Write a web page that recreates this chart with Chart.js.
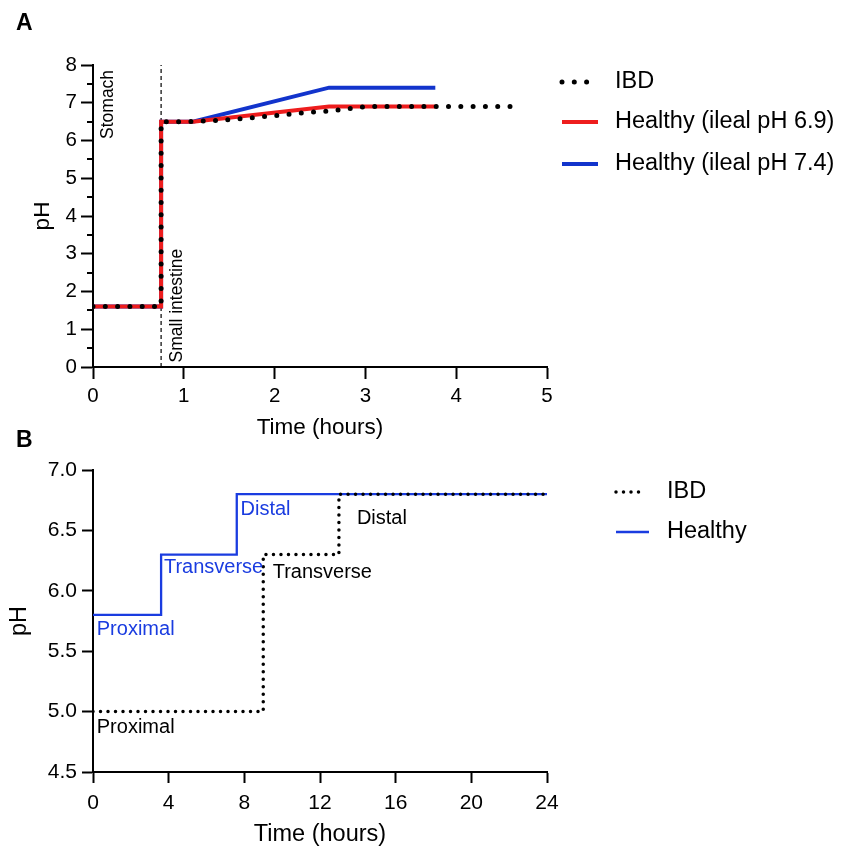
<!DOCTYPE html>
<html>
<head>
<meta charset="utf-8">
<title>Gastrointestinal pH profiles</title>
<script src="https://cdn.jsdelivr.net/npm/chart.js@4.4.1/dist/chart.umd.min.js"></script>
<style>
  html, body { margin: 0; padding: 0; background: #fff; }
  #wrap { position: relative; width: 842px; height: 850px; overflow: hidden; }
  canvas { position: absolute; left: 0; }
  #chartA { top: 0; }
  #chartB { top: 420px; }
</style>
</head>
<body>
<div id="wrap">
  <canvas id="chartA" width="842" height="445"></canvas>
  <canvas id="chartB" width="842" height="430"></canvas>
</div>
<script>
// ---- Panel A: stomach -> small intestine ----
const timeA_IBD = [0, 0.75, 0.75, 1.0, 1.3, 1.7, 2.1, 2.35, 2.65, 3.0, 4.65];
const phA_IBD   = [1.6, 1.6, 6.5, 6.5, 6.52, 6.59, 6.68, 6.74, 6.79, 6.9, 6.9];
const timeA_H69 = [0, 0.75, 0.75, 1.1, 2.6, 3.77];
const phA_H69   = [1.6, 1.6, 6.5, 6.5, 6.9, 6.9];
const timeA_H74 = [0, 0.75, 0.75, 1.1, 2.6, 3.77];
const phA_H74   = [1.6, 1.6, 6.5, 6.5, 7.4, 7.4];
const gastricEmptyA = 0.75;          // stomach / small intestine boundary (h)
const ticksAx = [0, 1, 2, 3, 4, 5];
const ticksAy = [0, 1, 2, 3, 4, 5, 6, 7, 8];
const minorAy = [0.5, 1.5, 2.5, 3.5, 4.5, 5.5, 6.5, 7.5];
const seriesA = ['IBD', 'Healthy (ileal pH 6.9)', 'Healthy (ileal pH 7.4)'];

// ---- Panel B: colon (step profiles) ----
const segmentsB = ['Proximal', 'Transverse', 'Distal'];
const timeB_IBD = [0, 9, 13, 24];
const phB_IBD   = [5.0, 6.3, 6.8, 6.8];
const timeB_H   = [0, 3.6, 7.6, 24];
const phB_H     = [5.8, 6.3, 6.8, 6.8];
const ticksBx = [0, 4, 8, 12, 16, 20, 24];
const ticksBy = [4.5, 5.0, 5.5, 6.0, 6.5, 7.0];
const seriesB = ['IBD', 'Healthy'];

const FONT = '"Liberation Sans", Arial, Helvetica, sans-serif';
const RED = '#ee1d1d';
const BLUE = '#1234cc';
const BLUE_B = '#1a3ce0';

Chart.defaults.font.family = FONT;
Chart.defaults.color = '#000';

const toXY = (xs, ys) => xs.map((x, i) => ({ x: x, y: ys[i] }));

// panel letter, minor ticks, text notes and the side legend
const decorPlugin = {
  id: 'decor',
  afterDraw(chart, args, opts) {
    const { ctx, chartArea, scales } = chart;
    ctx.save();
    ctx.fillStyle = '#000';
    ctx.font = 'bold 23px ' + FONT;
    ctx.textAlign = 'left';
    ctx.textBaseline = 'middle';
    ctx.fillText(opts.letter, opts.letterX, opts.letterY);

    ctx.strokeStyle = '#000';
    ctx.lineWidth = 2;
    (opts.minorY || []).forEach(v => {
      const y = Math.round(scales.y.getPixelForValue(v));
      ctx.beginPath();
      ctx.moveTo(chartArea.left, y);
      ctx.lineTo(chartArea.left - 6, y);
      ctx.stroke();
    });

    (opts.notes || []).forEach(n => {
      ctx.save();
      ctx.translate(scales.x.getPixelForValue(n.x), scales.y.getPixelForValue(n.y));
      if (n.rotate) ctx.rotate(-Math.PI / 2);
      ctx.font = n.size + 'px ' + FONT;
      ctx.fillStyle = n.color || '#000';
      ctx.textAlign = n.align || 'left';
      ctx.textBaseline = 'middle';
      ctx.fillText(n.text, 0, 0);
      ctx.restore();
    });

    const lg = opts.legend;
    const items = chart.data.datasets.filter(d => d.inLegend);
    items.forEach((ds, i) => {
      const y = chartArea.top + lg.rows[i];
      const x0 = chartArea.right + lg.markerX;
      ctx.save();
      ctx.strokeStyle = ds.borderColor;
      ctx.lineWidth = ds.borderWidth;
      ctx.lineCap = ds.borderCapStyle || 'butt';
      ctx.setLineDash(ds.borderDash || []);
      ctx.beginPath();
      ctx.moveTo(x0, y);
      ctx.lineTo(x0 + (ds.borderDash ? lg.dotLen : lg.markerLen), y);
      ctx.stroke();
      ctx.restore();
      ctx.font = lg.size + 'px ' + FONT;
      ctx.fillStyle = '#000';
      ctx.textAlign = 'left';
      ctx.textBaseline = 'middle';
      ctx.fillText(ds.label, chartArea.right + lg.textX, y);
    });
    ctx.restore();
  }
};

function axis(ticks, opts) {
  return {
    type: 'linear',
    min: ticks[0],
    max: ticks[ticks.length - 1],
    afterBuildTicks: s => { s.ticks = ticks.map(v => ({ value: v })); },
    border: { color: '#000', width: 2 },
    grid: { display: true, drawOnChartArea: false, drawTicks: true,
            tickLength: opts.tickLength, tickWidth: 2, tickColor: '#000', color: '#000' },
    ticks: { color: '#000', padding: opts.padding, font: { size: opts.tickSize },
             maxRotation: 0, autoSkip: false, callback: opts.format },
    title: { display: true, text: opts.title, color: '#000', font: { size: opts.titleSize }, padding: opts.titlePad },
    afterFit: opts.fit
  };
}

// ---------------- Panel A ----------------
new Chart(document.getElementById('chartA'), {
  type: 'line',
  data: {
    datasets: [
      { label: seriesA[0], inLegend: true, data: toXY(timeA_IBD, phA_IBD),
        borderColor: '#000', borderWidth: 5, borderDash: [0, 12.3], borderCapStyle: 'round' },
      { label: seriesA[1], inLegend: true, data: toXY(timeA_H69, phA_H69),
        borderColor: RED, borderWidth: 4 },
      { label: seriesA[2], inLegend: true, data: toXY(timeA_H74, phA_H74),
        borderColor: BLUE, borderWidth: 4 },
      { label: 'boundary', data: toXY([gastricEmptyA, gastricEmptyA], [ticksAy[0], ticksAy[ticksAy.length - 1]]),
        borderColor: '#000', borderWidth: 1.2, borderDash: [4, 3] }
    ]
  },
  options: {
    responsive: false,
    animation: false,
    elements: { point: { radius: 0 }, line: { tension: 0, fill: false } },
    layout: { padding: { left: 10, right: 295, top: 65, bottom: 0 } },
    plugins: {
      legend: { display: false },
      tooltip: { enabled: false },
      decor: {
        letter: 'A', letterX: 16, letterY: 24,
        minorY: minorAy,
        notes: [
          { text: 'Stomach', x: 0.165, y: 7.87, rotate: true, align: 'right', size: 17.5 },
          { text: 'Small intestine', x: 0.93, y: 0.12, rotate: true, align: 'left', size: 17.5 }
        ],
        legend: { rows: [17, 57, 99], markerX: 15, markerLen: 36, dotLen: 26, textX: 68, size: 23.5 }
      }
    },
    scales: {
      x: axis(ticksAx, { tickLength: 12, padding: 5, tickSize: 20.5, title: 'Time (hours)', titleSize: 22.5,
                         titlePad: { top: 0, bottom: 4 }, fit: s => { s.height = 78; } }),
      y: axis(ticksAy, { tickLength: 12, padding: 4, tickSize: 20.5, title: 'pH', titleSize: 22.5,
                         titlePad: { top: 19, bottom: 0 }, fit: s => { s.width = 83; } })
    }
  },
  plugins: [decorPlugin]
});

// ---------------- Panel B ----------------
const notesB = [
  { text: segmentsB[0], x: 0.2,  y: 5.68, color: BLUE_B, size: 20 },
  { text: segmentsB[1], x: 3.75, y: 6.19, color: BLUE_B, size: 20 },
  { text: segmentsB[2], x: 7.8,  y: 6.67, color: BLUE_B, size: 20 },
  { text: segmentsB[0], x: 0.2,  y: 4.87, size: 20 },
  { text: segmentsB[1], x: 9.5,  y: 6.15, size: 20 },
  { text: segmentsB[2], x: 13.95, y: 6.6, size: 20 }
];

new Chart(document.getElementById('chartB'), {
  type: 'line',
  data: {
    datasets: [
      { label: seriesB[0], inLegend: true, data: toXY(timeB_IBD, phB_IBD), stepped: 'before',
        borderColor: '#000', borderWidth: 3.5, borderDash: [0, 7.5], borderCapStyle: 'round' },
      { label: seriesB[1], inLegend: true, data: toXY(timeB_H, phB_H), stepped: 'before',
        borderColor: BLUE_B, borderWidth: 2.3 }
    ]
  },
  options: {
    responsive: false,
    animation: false,
    elements: { point: { radius: 0 }, line: { tension: 0, fill: false } },
    layout: { padding: { left: 10, right: 295, top: 50, bottom: 0 } },
    plugins: {
      legend: { display: false },
      tooltip: { enabled: false },
      decor: {
        letter: 'B', letterX: 16, letterY: 21,
        notes: notesB,
        legend: { rows: [22, 62], markerX: 69, markerLen: 33, dotLen: 28, textX: 120, size: 23.5 }
      }
    },
    scales: {
      x: axis(ticksBx, { tickLength: 11, padding: 8, tickSize: 21, title: 'Time (hours)', titleSize: 23.5,
                         titlePad: { top: 0, bottom: 1 }, fit: s => { s.height = 78; } }),
      y: axis(ticksBy, { tickLength: 11, padding: 5, tickSize: 21, title: 'pH', titleSize: 23.5,
                         titlePad: { top: -5, bottom: 0 }, format: v => Number(v).toFixed(1),
                         fit: s => { s.width = 83; } })
    }
  },
  plugins: [decorPlugin]
});
</script>
</body>
</html>
